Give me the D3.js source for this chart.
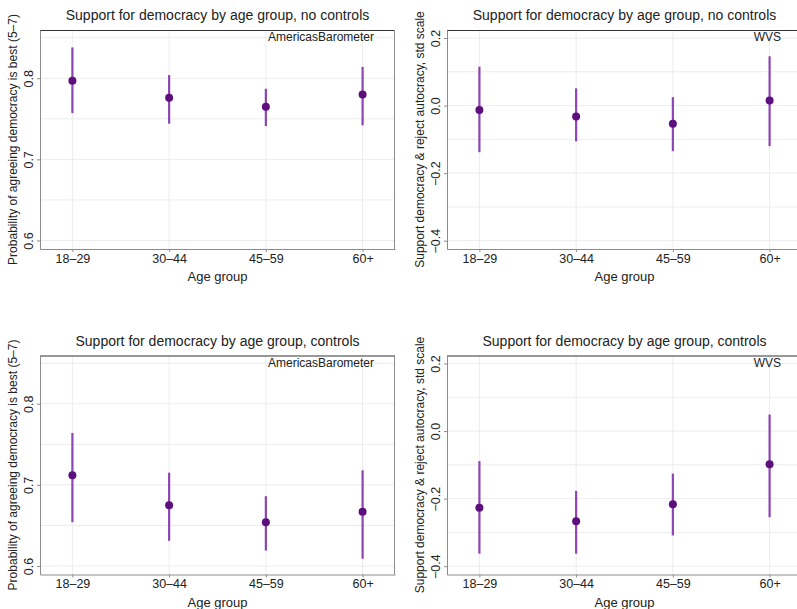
<!DOCTYPE html>
<html>
<head>
<meta charset="utf-8">
<script src="https://cdn.jsdelivr.net/npm/d3@7"></script>
<style>
  body { margin: 0; background: #fff; }
  svg { font-family: "Liberation Sans", Arial, Helvetica, sans-serif; }
  .grid line { stroke: #ececec; stroke-width: 1; }
  .axis path, .axis line { stroke: #8c8c8c; }
  .axis text { fill: #222; font-size: 12.5px; }
</style>
</head>
<body>
<script>
// Data
const ageGroups = ['18–29', '30–44', '45–59', '60+'];

const abNoCtrlEst = [0.797, 0.776, 0.765, 0.780];
const abNoCtrlLo  = [0.757, 0.744, 0.741, 0.742];
const abNoCtrlHi  = [0.838, 0.804, 0.787, 0.814];

const wvsNoCtrlEst = [-0.013, -0.032, -0.054, 0.015];
const wvsNoCtrlLo  = [-0.138, -0.106, -0.135, -0.120];
const wvsNoCtrlHi  = [0.115, 0.051, 0.025, 0.146];

const abCtrlEst = [0.712, 0.675, 0.654, 0.667];
const abCtrlLo  = [0.654, 0.631, 0.619, 0.609];
const abCtrlHi  = [0.764, 0.715, 0.686, 0.718];

const wvsCtrlEst = [-0.227, -0.267, -0.217, -0.098];
const wvsCtrlLo  = [-0.363, -0.363, -0.309, -0.255];
const wvsCtrlHi  = [-0.089, -0.177, -0.126, 0.049];

const abTicks  = [0.6, 0.7, 0.8];
const abGrid   = [0.6, 0.65, 0.7, 0.75, 0.8, 0.85];
const wvsTicks = [-0.4, -0.2, 0.0, 0.2];
const wvsGrid  = [-0.4, -0.3, -0.2, -0.1, 0.0, 0.1, 0.2];

const abDomain  = [0.5895, 0.8595];
const wvsDomain = [-0.4246, 0.2237];

const abYTitle  = 'Probability of agreeing democracy is best (5–7)';
const wvsYTitle = 'Support democracy & reject autocracy, std scale';

const pointColor = '#5c0f7d';
const barColor   = '#8d45b3';

var svg;
{
  const width = 797, height = 609;
  svg = d3.select('body').append('svg')
      .attr('width', width)
      .attr('height', height);

  drawPanel(40, 30, 'Support for democracy by age group, no controls', 'AmericasBarometer',
    abDomain, abTicks, abGrid, d3.format('.1f'), abYTitle, abNoCtrlEst, abNoCtrlLo, abNoCtrlHi);
  drawPanel(447, 30, 'Support for democracy by age group, no controls', 'WVS',
    wvsDomain, wvsTicks, wvsGrid, fmtSigned, wvsYTitle, wvsNoCtrlEst, wvsNoCtrlLo, wvsNoCtrlHi);
  drawPanel(40, 355.5, 'Support for democracy by age group, controls', 'AmericasBarometer',
    abDomain, abTicks, abGrid, d3.format('.1f'), abYTitle, abCtrlEst, abCtrlLo, abCtrlHi);
  drawPanel(447, 355.5, 'Support for democracy by age group, controls', 'WVS',
    wvsDomain, wvsTicks, wvsGrid, fmtSigned, wvsYTitle, wvsCtrlEst, wvsCtrlLo, wvsCtrlHi);
}

function fmtSigned(v) {
  return d3.format('.1f')(v).replace('-', '−');
}

function drawPanel(left, top, title, source, domain, ticks, grid, fmt, yTitle, est, lo, hi) {
  const w = 355, h = 219;
  const g = svg.append('g')
      .attr('transform', 'translate(' + left + ',' + top + ')');

  const x = d3.scalePoint()
      .domain(ageGroups)
      .range([0, w])
      .padding(0.335);

  const y = d3.scaleLinear()
      .domain(domain)
      .range([h, 0]);

  // light grid
  const gr = g.append('g').attr('class', 'grid');
  gr.selectAll('line.h')
    .data(grid)
    .enter().append('line')
      .attr('class', 'h')
      .attr('x1', 0).attr('x2', w)
      .attr('y1', function(d) { return y(d); })
      .attr('y2', function(d) { return y(d); });
  gr.selectAll('line.v')
    .data(ageGroups)
    .enter().append('line')
      .attr('class', 'v')
      .attr('y1', 0).attr('y2', h)
      .attr('x1', function(d) { return x(d); })
      .attr('x2', function(d) { return x(d); });

  // frame: top/right
  g.append('line')
      .attr('x1', 0).attr('x2', w).attr('y1', 0.5).attr('y2', 0.5)
      .attr('stroke', '#333');
  g.append('line')
      .attr('x1', w - 0.5).attr('x2', w - 0.5).attr('y1', 0).attr('y2', h)
      .attr('stroke', '#8c8c8c');

  // axes
  const yAxis = g.append('g')
      .attr('class', 'axis')
      .call(d3.axisLeft(y).tickValues(ticks).tickFormat(fmt).tickSize(3).tickSizeOuter(0));
  yAxis.selectAll('text')
      .attr('x', -7)
      .attr('y', 0)
      .attr('dy', 0)
      .attr('transform', 'rotate(-90,-7,0)')
      .attr('text-anchor', 'middle');

  const xAxis = g.append('g')
      .attr('class', 'axis')
      .attr('transform', 'translate(0,' + h + ')')
      .call(d3.axisBottom(x).tickSize(3).tickSizeOuter(0));
  xAxis.selectAll('text')
      .attr('y', 5);

  // titles
  g.append('text')
      .attr('x', w / 2)
      .attr('y', -10)
      .attr('text-anchor', 'middle')
      .attr('fill', '#222')
      .style('font-size', '14px')
      .text(title);

  g.append('text')
      .attr('x', w - 21)
      .attr('y', 11)
      .attr('text-anchor', 'end')
      .attr('fill', '#222')
      .style('font-size', '12px')
      .text(source);

  g.append('text')
      .attr('x', w / 2)
      .attr('y', h + 32)
      .attr('text-anchor', 'middle')
      .attr('fill', '#222')
      .style('font-size', '13px')
      .text('Age group');

  g.append('text')
      .attr('transform', 'translate(-23,' + (h / 2) + ') rotate(-90)')
      .attr('text-anchor', 'middle')
      .attr('fill', '#222')
      .style('font-size', '12px')
      .text(yTitle);

  // estimates with confidence intervals
  const rows = ageGroups.map(function(a, i) {
    return {group: a, est: est[i], lo: lo[i], hi: hi[i]};
  });

  g.selectAll('line.ci')
    .data(rows)
    .enter().append('line')
      .attr('class', 'ci')
      .attr('x1', function(d) { return x(d.group); })
      .attr('x2', function(d) { return x(d.group); })
      .attr('y1', function(d) { return y(d.lo); })
      .attr('y2', function(d) { return y(d.hi); })
      .attr('stroke', barColor)
      .attr('stroke-width', 2.2);

  g.selectAll('circle.est')
    .data(rows)
    .enter().append('circle')
      .attr('class', 'est')
      .attr('cx', function(d) { return x(d.group); })
      .attr('cy', function(d) { return y(d.est); })
      .attr('r', 4)
      .attr('fill', pointColor);
}
</script>
</body>
</html>
